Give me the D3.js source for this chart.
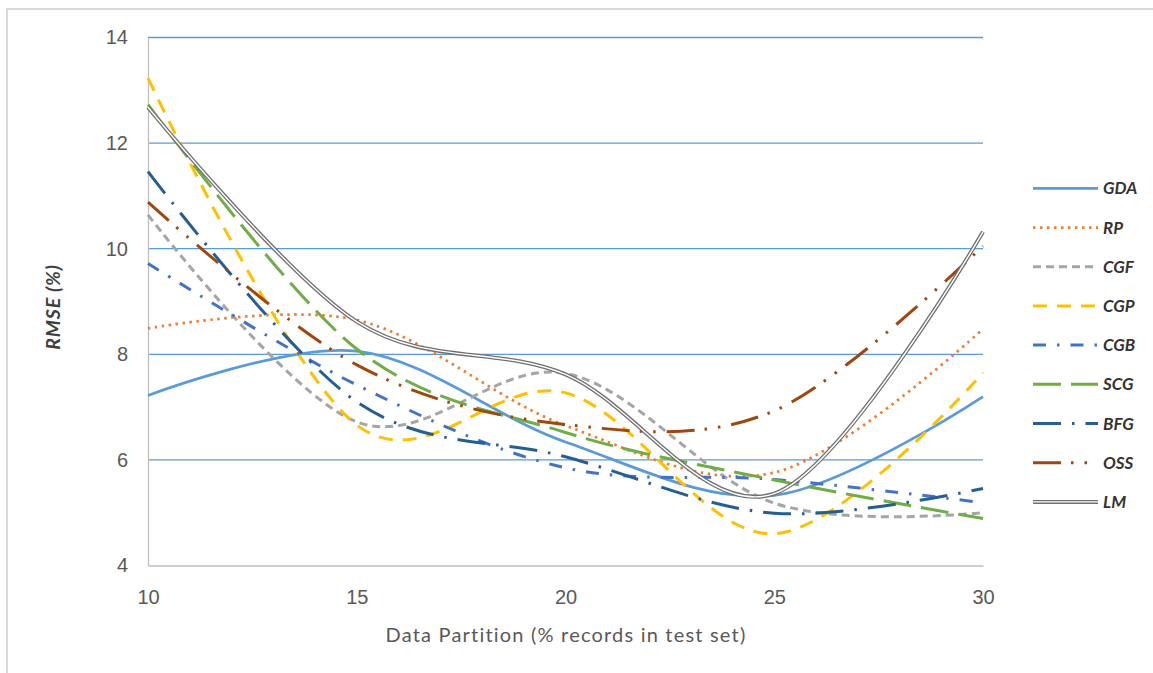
<!DOCTYPE html>
<html>
<head>
<meta charset="utf-8">
<script src="https://cdn.jsdelivr.net/npm/d3@7"></script>
<style>
  html, body { margin: 0; padding: 0; background: #fff; }
  svg { display: block; font-family: Lato, "Open Sans", "Liberation Sans", sans-serif; }
</style>
</head>
<body>
<svg id="chart" width="1153" height="673"></svg>
<script>
// Data partition (% of records held out for testing)
const partitions = [10, 15, 20, 25, 30];

// RMSE (%) for each training algorithm
const gda = [7.22, 8.06, 6.34, 5.33, 7.20];
const rp  = [8.49, 8.65, 6.65, 5.76, 8.48];
const cgf = [10.64, 6.72, 7.64, 5.18, 5.00];
const cgp = [13.23, 6.66, 7.27, 4.60, 7.65];
const cgb = [9.72, 7.42, 5.85, 5.63, 5.19];
const scg = [12.73, 8.10, 6.52, 5.62, 4.89];
const bfg = [11.46, 7.10, 6.06, 4.99, 5.46];
const oss = [10.88, 7.80, 6.67, 6.93, 10.05];
const lm  = [12.68, 8.62, 7.62, 5.36, 10.32];

const seriesNames = ["GDA", "RP", "CGF", "CGP", "CGB", "SCG", "BFG", "OSS", "LM"];
const yTicks = [4, 6, 8, 10, 12, 14];
const xTicks = [10, 15, 20, 25, 30];

const series = [
  { name: seriesNames[0], values: gda, color: "#5b9bd5", dash: null,                    width: 2.75 },
  { name: seriesNames[1], values: rp,  color: "#ed7d31", dash: "2.5,4.5",               width: 2.75 },
  { name: seriesNames[2], values: cgf, color: "#a5a5a5", dash: "8,5",                   width: 3 },
  { name: seriesNames[3], values: cgp, color: "#ffc000", dash: "14,10",                 width: 3 },
  { name: seriesNames[4], values: cgb, color: "#4472c4", dash: "13,11,2.5,11",          width: 3 },
  { name: seriesNames[5], values: scg, color: "#70ad47", dash: "28,10",                 width: 3 },
  { name: seriesNames[6], values: bfg, color: "#255e91", dash: "28,11,2.5,11",          width: 3 },
  { name: seriesNames[7], values: oss, color: "#9e480e", dash: "28,10,2.5,11,2.5,11",   width: 3 },
  { name: seriesNames[8], values: lm,  color: "#6f6f6f", dash: null,                    width: 4, double: true }
];

const svg = d3.select("#chart");

// Chart frame
svg.append("rect")
  .attr("x", 7).attr("y", 9)
  .attr("width", 1160).attr("height", 700)
  .attr("fill", "#fff")
  .attr("stroke", "#d9d9d9").attr("stroke-width", 2);

const plot = { left: 148, right: 983, top: 37.5, bottom: 565.5 };

const x = d3.scaleLinear().domain([10, 30]).range([plot.left, plot.right]);
const y = d3.scaleLinear().domain([4, 14]).range([plot.bottom, plot.top]);

// Horizontal gridlines
svg.append("g")
  .selectAll("line")
  .data(yTicks.filter(d => d > 4))
  .join("line")
  .attr("x1", plot.left).attr("x2", plot.right)
  .attr("y1", d => y(d)).attr("y2", d => y(d))
  .attr("stroke", "#5b9bd5").attr("stroke-width", 1.3);

// Y axis
const yAxis = svg.append("g")
  .attr("transform", `translate(${plot.left},0)`)
  .call(d3.axisLeft(y).tickValues(yTicks).tickSize(0).tickPadding(20).tickFormat(d3.format("d")));
yAxis.select(".domain").attr("stroke", "#bfbfbf").attr("stroke-width", 1.3);
yAxis.selectAll("text")
  .attr("fill", "#595959").style("font-size", "20px");

// X axis
const xAxis = svg.append("g")
  .attr("transform", `translate(0,${plot.bottom})`)
  .call(d3.axisBottom(x).tickValues(xTicks).tickSize(0).tickPadding(24).tickFormat(d3.format("d")));
xAxis.select(".domain").attr("stroke", "#bfbfbf").attr("stroke-width", 1.3);
xAxis.selectAll("text")
  .attr("fill", "#595959").style("font-size", "20px");

// Axis titles
svg.append("text")
  .attr("x", 566).attr("y", 642)
  .attr("text-anchor", "middle")
  .attr("fill", "#595959")
  .style("font-size", "20px").style("letter-spacing", "1.2px")
  .text("Data Partition (% records in test set)");

svg.append("text")
  .attr("transform", "translate(60,307) rotate(-90)")
  .attr("text-anchor", "middle")
  .attr("fill", "#404040")
  .style("font-size", "19.5px").style("font-weight", "bold").style("font-style", "italic")
  .style("letter-spacing", "0.8px")
  .text("RMSE (%)");

// Smoothed series lines
const line = d3.line()
  .x((d, i) => x(partitions[i]))
  .y(d => y(d))
  .curve(d3.curveCardinal.tension(0));

const lines = svg.append("g").attr("fill", "none");
series.forEach(s => {
  const p = lines.append("path")
    .attr("d", line(s.values))
    .attr("stroke", s.color)
    .attr("stroke-width", s.width)
    .attr("stroke-linejoin", "round");
  if (s.dash) p.attr("stroke-dasharray", s.dash);
  if (s.double) {
    lines.append("path")
      .attr("d", line(s.values))
      .attr("stroke", "#fff")
      .attr("stroke-width", 1.4);
  }
});

// Legend
const legend = svg.append("g");
const legendTop = 188.3, legendStep = 39.2;
series.forEach((s, i) => {
  const ly = legendTop + i * legendStep;
  const seg = legend.append("line")
    .attr("x1", 1033).attr("x2", 1098)
    .attr("y1", ly).attr("y2", ly)
    .attr("stroke", s.color).attr("stroke-width", s.width);
  if (s.dash) seg.attr("stroke-dasharray", s.dash);
  if (s.double) {
    legend.append("line")
      .attr("x1", 1033).attr("x2", 1098)
      .attr("y1", ly).attr("y2", ly)
      .attr("stroke", "#fff").attr("stroke-width", 1.4);
  }
  legend.append("text")
    .attr("x", 1103).attr("y", ly)
    .attr("dy", "0.36em")
    .attr("fill", "#333")
    .style("font-size", "17px").style("font-weight", "bold").style("font-style", "italic")
    .text(s.name);
});
</script>
</body>
</html>
